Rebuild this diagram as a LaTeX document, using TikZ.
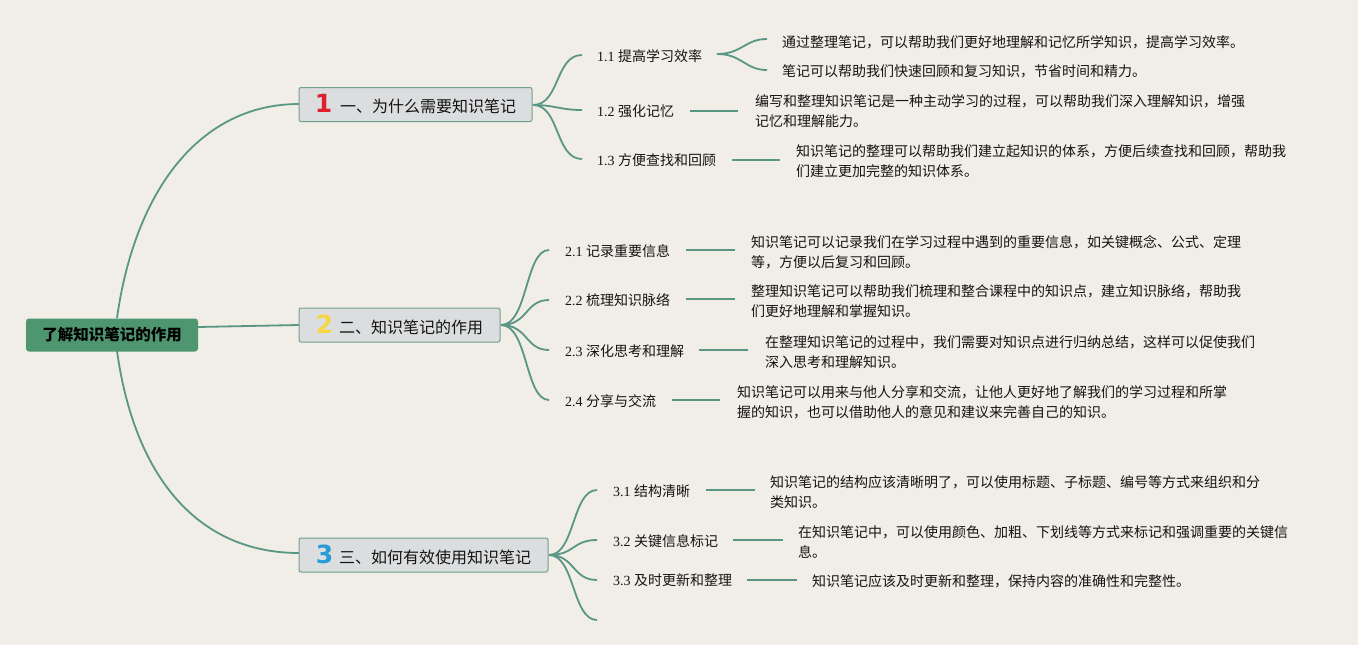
\documentclass[tikz,border=0pt]{standalone}
\usepackage{fontspec}
\newfontfamily\cjk{Noto Sans CJK SC}
\newfontfamily\numfont{DejaVu Sans Bold}
\newfontfamily\serifnum{Liberation Serif}
\definecolor{bg}{RGB}{240,238,230}
\definecolor{ln}{RGB}{90,150,132}
\definecolor{rootg}{RGB}{78,150,112}
\definecolor{boxg}{RGB}{219,221,222}
\definecolor{boxb}{RGB}{110,160,140}
\definecolor{txt}{RGB}{20,20,20}
\definecolor{nred}{RGB}{222,32,46}
\definecolor{nyel}{RGB}{245,215,70}
\definecolor{nblue}{RGB}{40,155,215}
\tikzset{
  rootbox/.style={rectangle, rounded corners=3pt, fill=rootg, minimum width=172pt, minimum height=33pt, inner sep=0pt, font=\cjk\bfseries\fontsize{15.5}{18}\selectfont, text=black},
  branchbox/.style={rectangle, rounded corners=2pt, fill=boxg, draw=boxb, line width=1pt, inner sep=0pt, minimum height=34pt, font=\cjk\fontsize{16}{19}\selectfont, text=txt},
  sublabel/.style={anchor=west, inner sep=0pt, font=\fontsize{14}{17}\selectfont, text=txt},
  leaf/.style={anchor=west, align=left, inner sep=0pt, font=\cjk\fontsize{14}{20}\selectfont, text=txt},
  conn/.style={draw=ln, line width=1.8pt},
  stub/.style={draw=ln, line width=2.2pt}
}
\newcommand{\lab}[2]{{\serifnum #1}\hspace{3.5pt}{\cjk #2}}
\newcommand{\bnum}[2]{\textcolor{#1}{\numfont\fontsize{25}{25}\selectfont #2}}
\begin{document}
\begin{tikzpicture}[x=1pt,y=-1pt]
\fill[bg] (0,0) rectangle (1358,645);
\useasboundingbox (0,0) rectangle (1358,645);

% connectors root -> branches (drawn first)
\coordinate (r1) at (117,318);
\coordinate (r2) at (198,327);
\coordinate (r3) at (117,351);
\coordinate (b1in) at (299,104);
\coordinate (b2in) at (299,325);
\coordinate (b3in) at (299,553);
\draw[conn] (r1) .. controls (135,190) and (200,104) .. (b1in);
\draw[conn] (r2) -- (b2in);
\draw[conn] (r3) .. controls (135,480) and (200,553) .. (b3in);

% root
\node[rootbox] (root) at (112,335) {了解知识笔记的作用};

% branches
\node[branchbox, minimum width=233pt] (b1) at (415.5,104.5) {\bnum{nred}{1}\hspace{8pt}一、为什么需要知识笔记};
\node[branchbox, minimum width=201pt] (b2) at (399.5,325) {\bnum{nyel}{2}\hspace{6pt}二、知识笔记的作用};
\node[branchbox, minimum width=249pt] (b3) at (423.5,555) {\bnum{nblue}{3}\hspace{6pt}三、如何有效使用知识笔记};

% ---------- branch 1 ----------
\coordinate (f1) at (533,105);
\coordinate (e11) at (582,55);
\coordinate (e12) at (582,110);
\coordinate (e13) at (582,159);
\draw[conn] (f1) .. controls (560,105) and (555,55) .. (e11);
\draw[conn] (f1) .. controls (555,105) and (560,110) .. (e12);
\draw[conn] (f1) .. controls (560,105) and (555,159) .. (e13);
\node[sublabel] (s11) at (597,56) {\lab{1.1}{提高学习效率}};
\node[sublabel] (s12) at (597,111) {\lab{1.2}{强化记忆}};
\node[sublabel] (s13) at (597,160) {\lab{1.3}{方便查找和回顾}};

\coordinate (f11) at (717,54);
\coordinate (e11a) at (767,39);
\coordinate (e11b) at (767,70);
\draw[conn] (f11) .. controls (742,54) and (745,39) .. (e11a);
\draw[conn] (f11) .. controls (742,54) and (745,70) .. (e11b);
\node[leaf] (l11a) at (782,42) {通过整理笔记，可以帮助我们更好地理解和记忆所学知识，提高学习效率。};
\node[leaf] (l11b) at (782,71) {笔记可以帮助我们快速回顾和复习知识，节省时间和精力。};

\node[leaf] (l12) at (755,111) {编写和整理知识笔记是一种主动学习的过程，可以帮助我们深入理解知识，增强\\记忆和理解能力。};
\draw[stub] (690,111) coordinate (a12) -- (738,111) coordinate (c12);
\node[leaf] (l13) at (796,161.5) {知识笔记的整理可以帮助我们建立起知识的体系，方便后续查找和回顾，帮助我\\们建立更加完整的知识体系。};
\draw[stub] (732,160) coordinate (a13) -- (780,160) coordinate (c13);

% ---------- branch 2 ----------
\coordinate (f2) at (501,325);
\coordinate (e21) at (549,250);
\coordinate (e22) at (549,300);
\coordinate (e23) at (549,350);
\coordinate (e24) at (549,400);
\draw[conn] (f2) .. controls (528,325) and (525,250) .. (e21);
\draw[conn] (f2) .. controls (528,325) and (525,300) .. (e22);
\draw[conn] (f2) .. controls (528,325) and (525,350) .. (e23);
\draw[conn] (f2) .. controls (528,325) and (525,400) .. (e24);
\node[sublabel] (s21) at (565,251) {\lab{2.1}{记录重要信息}};
\node[sublabel] (s22) at (565,300) {\lab{2.2}{梳理知识脉络}};
\node[sublabel] (s23) at (565,351) {\lab{2.3}{深化思考和理解}};
\node[sublabel] (s24) at (565,401) {\lab{2.4}{分享与交流}};

\draw[stub] (686,250) coordinate (a21) -- (735,250) coordinate (c21);
\draw[stub] (686,299) coordinate (a22) -- (735,299) coordinate (c22);
\draw[stub] (699,350) coordinate (a23) -- (748,350) coordinate (c23);
\draw[stub] (672,400) coordinate (a24) -- (720,400) coordinate (c24);
\node[leaf] (l21) at (751,252) {知识笔记可以记录我们在学习过程中遇到的重要信息，如关键概念、公式、定理\\等，方便以后复习和回顾。};
\node[leaf] (l22) at (751,301) {整理知识笔记可以帮助我们梳理和整合课程中的知识点，建立知识脉络，帮助我\\们更好地理解和掌握知识。};
\node[leaf] (l23) at (765,352) {在整理知识笔记的过程中，我们需要对知识点进行归纳总结，这样可以促使我们\\深入思考和理解知识。};
\node[leaf] (l24) at (737,402) {知识笔记可以用来与他人分享和交流，让他人更好地了解我们的学习过程和所掌\\握的知识，也可以借助他人的意见和建议来完善自己的知识。};

% ---------- branch 3 ----------
\coordinate (f3) at (549,555);
\coordinate (e31) at (597,490);
\coordinate (e32) at (597,540);
\coordinate (e33) at (597,580);
\coordinate (e34) at (597,620);
\draw[conn] (f3) .. controls (575,555) and (572,490) .. (e31);
\draw[conn] (f3) .. controls (575,555) and (572,540) .. (e32);
\draw[conn] (f3) .. controls (575,555) and (572,580) .. (e33);
\draw[conn] (f3) .. controls (575,555) and (572,620) .. (e34);
\node[sublabel] (s31) at (613,491) {\lab{3.1}{结构清晰}};
\node[sublabel] (s32) at (613,541) {\lab{3.2}{关键信息标记}};
\node[sublabel] (s33) at (613,580) {\lab{3.3}{及时更新和整理}};

\draw[stub] (706,490) coordinate (a31) -- (755,490) coordinate (c31);
\draw[stub] (733,540) coordinate (a32) -- (783,540) coordinate (c32);
\draw[stub] (747,580) coordinate (a33) -- (797,580) coordinate (c33);
\node[leaf] (l31) at (770,492) {知识笔记的结构应该清晰明了，可以使用标题、子标题、编号等方式来组织和分\\类知识。};
\node[leaf] (l32) at (798,542) {在知识笔记中，可以使用颜色、加粗、下划线等方式来标记和强调重要的关键信\\息。};
\node[leaf] (l33) at (812,581) {知识笔记应该及时更新和整理，保持内容的准确性和完整性。};
\end{tikzpicture}
\end{document}
